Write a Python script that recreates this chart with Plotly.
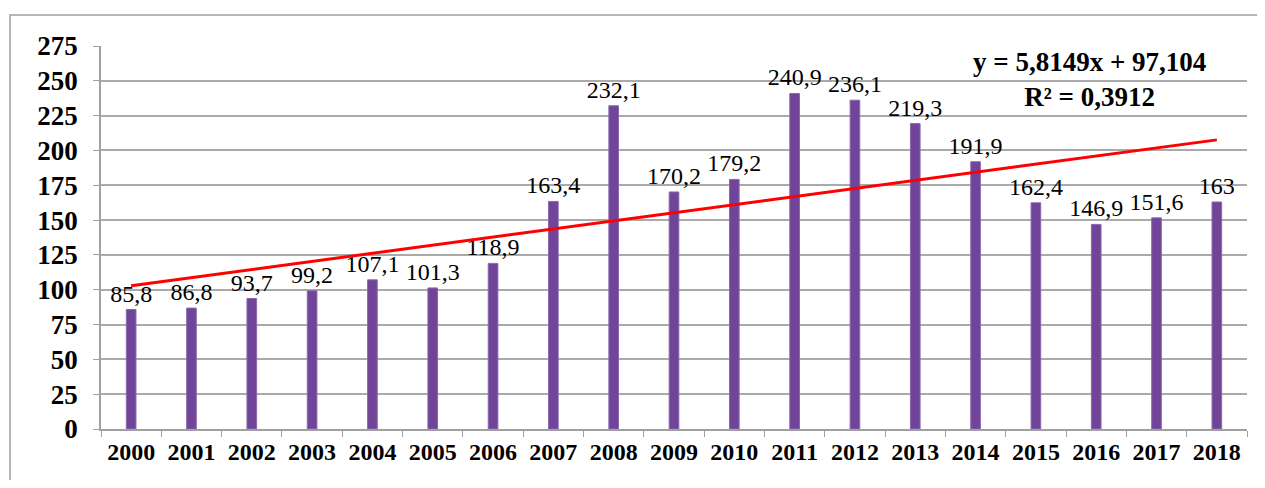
import plotly.graph_objects as go

years = ["2000", "2001", "2002", "2003", "2004", "2005", "2006", "2007", "2008", "2009",
         "2010", "2011", "2012", "2013", "2014", "2015", "2016", "2017", "2018"]
values = [85.8, 86.8, 93.7, 99.2, 107.1, 101.3, 118.9, 163.4, 232.1, 170.2,
          179.2, 240.9, 236.1, 219.3, 191.9, 162.4, 146.9, 151.6, 163]
labels = ["85,8", "86,8", "93,7", "99,2", "107,1", "101,3", "118,9", "163,4", "232,1", "170,2",
          "179,2", "240,9", "236,1", "219,3", "191,9", "162,4", "146,9", "151,6", "163"]

# linear trend, end points (y = 5,8149x + 97,104)
trend_x = ["2000", "2018"]
trend_y = [102.9, 207.6]
equation = "y = 5,8149x + 97,104<br>R² = 0,3912"

serif = "Liberation Serif"

fig = go.Figure()
fig.add_trace(go.Bar(
    x=years, y=values, text=labels, textposition="outside",
    constraintext="none", cliponaxis=False, width=0.16,
    marker=dict(color="#704599", line=dict(color="#8a68ae", width=1)),
    textfont=dict(family=serif, size=24, color="black"),
))
fig.add_trace(go.Scatter(
    x=trend_x, y=trend_y, mode="lines",
    line=dict(color="#ff0000", width=3),
))

fig.add_annotation(
    x=0.863, y=0.912, xref="paper", yref="paper", text="<b>" + equation + "</b>",
    showarrow=False, align="center", xanchor="center", yanchor="middle",
    font=dict(family=serif, size=27, color="black"),
)

# outer chart frame
fig.add_shape(type="rect", xref="paper", yref="paper",
              x0=-0.0794, x1=1.1, y0=-0.3, y1=1.081,
              line=dict(color="#a0a0a0", width=1.5))

# page body has an 8px margin, so the figure is sized/offset to compensate
fig.update_layout(
    width=1249, height=472,
    margin=dict(l=93, r=10, t=38, b=51),
    paper_bgcolor="white", plot_bgcolor="white",
    showlegend=False,
)
fig.update_xaxes(
    type="category", showgrid=False, showline=True, linecolor="#a0a0a0", linewidth=1.5,
    ticks="outside", tickson="boundaries", ticklen=6, tickcolor="#a0a0a0",
    tickfont=dict(family=serif, size=24, color="black", weight="bold"),
)
fig.update_yaxes(
    range=[0, 275], dtick=25, showgrid=True, gridcolor="#aaaaaa", gridwidth=1.5,
    showline=True, linecolor="#a0a0a0", linewidth=1.5,
    ticks="outside", ticklen=6, tickcolor="#a0a0a0", zeroline=False,
    ticklabelstandoff=10,
    tickfont=dict(family=serif, size=27, color="black", weight="bold"),
)

fig.write_html("out.html")
